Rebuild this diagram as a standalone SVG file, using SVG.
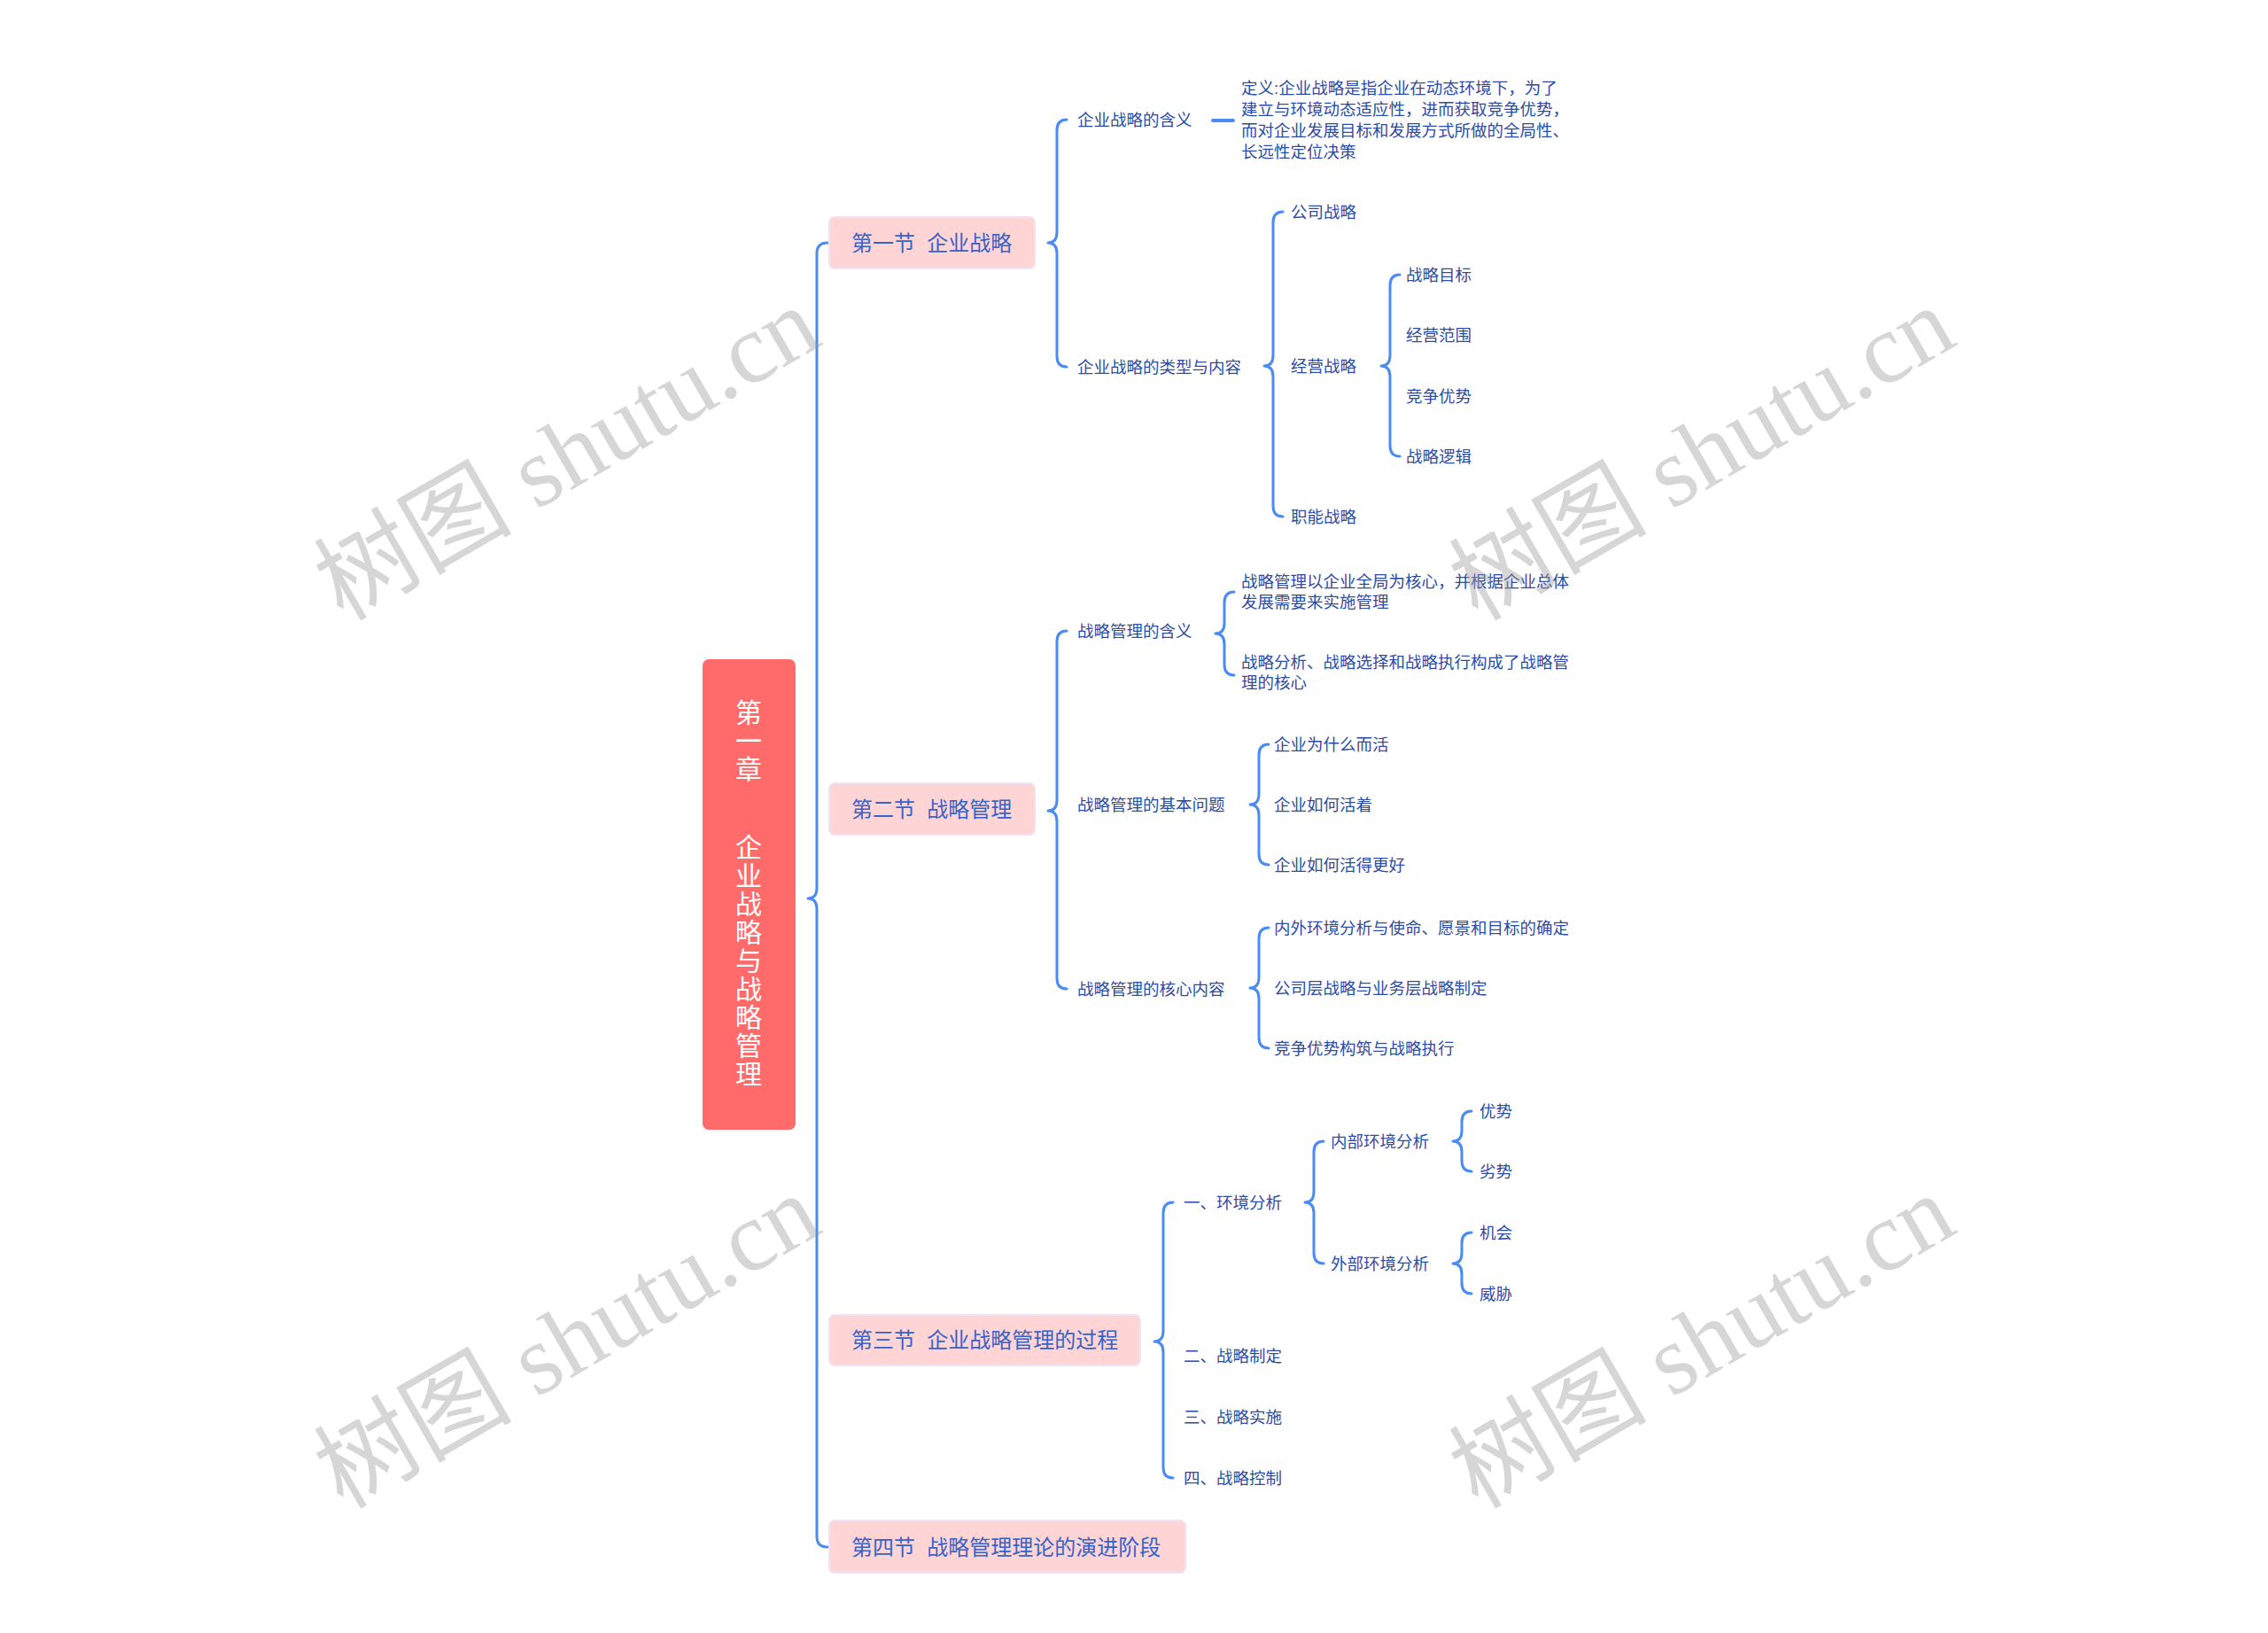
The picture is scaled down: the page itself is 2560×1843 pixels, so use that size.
<svg xmlns="http://www.w3.org/2000/svg" width="2560" height="1843" viewBox="0 0 2560 1843">
<style>
text{font-family:'Liberation Sans','Noto Sans CJK SC',sans-serif;dominant-baseline:central}
.root{fill:#FF6B6B}
.roott{fill:#ffffff;font-size:30px;text-anchor:middle}
.sec{fill:#FFD4D4;stroke:#F0E2F2;stroke-width:2}
.sect{fill:#3563C9;font-size:24px;white-space:pre}
.sub{fill:#2D4CA6;font-size:18.5px}
.con{fill:none;stroke:#4A8CF2;stroke-width:3;stroke-linecap:round;stroke-linejoin:round}
.wm{font-family:'Liberation Serif','Noto Sans CJK SC',serif;font-size:112px;fill:#999999;fill-opacity:0.4;text-anchor:middle}
</style>
<rect width="2560" height="1843" fill="#ffffff"/>
<g id="connectors">
<path class="con" d="M934,274 Q922,274 922,286 L922,1002 Q922,1014 912,1014 Q922,1014 922,1026 L922,1734 Q922,1746 934,1746"/>
<path class="con" d="M1204,135 Q1193,135 1193,147 L1193,262 Q1193,274 1183,274 Q1193,274 1193,286 L1193,402 Q1193,414 1204,414"/>
<path class="con" d="M1369,136 L1392,136" style="stroke-width:4"/>
<path class="con" d="M1448,239 Q1437,239 1437,251 L1437,401 Q1437,413 1427,413 Q1437,413 1437,425 L1437,571 Q1437,583 1448,583"/>
<path class="con" d="M1580,310 Q1569,310 1569,322 L1569,401 Q1569,413 1559,413 Q1569,413 1569,425 L1569,503 Q1569,515 1580,515"/>
<path class="con" d="M1204,712 Q1193,712 1193,724 L1193,903 Q1193,915 1183,915 Q1193,915 1193,927 L1193,1104 Q1193,1116 1204,1116"/>
<path class="con" d="M1393,668 Q1382,668 1382,680 L1382,703 Q1382,715 1372,715 Q1382,715 1382,727 L1382,750 Q1382,762 1393,762"/>
<path class="con" d="M1432,840 Q1421,840 1421,852 L1421,896 Q1421,908 1411,908 Q1421,908 1421,920 L1421,964 Q1421,976 1432,976"/>
<path class="con" d="M1432,1047 Q1421,1047 1421,1059 L1421,1103 Q1421,1115 1411,1115 Q1421,1115 1421,1127 L1421,1171 Q1421,1183 1432,1183"/>
<path class="con" d="M1324,1357 Q1313,1357 1313,1369 L1313,1502 Q1313,1514 1303,1514 Q1313,1514 1313,1526 L1313,1656 Q1313,1668 1324,1668"/>
<path class="con" d="M1494,1288 Q1483,1288 1483,1300 L1483,1345 Q1483,1357 1473,1357 Q1483,1357 1483,1369 L1483,1414 Q1483,1426 1494,1426"/>
<path class="con" d="M1661,1254 Q1650,1254 1650,1266 L1650,1276 Q1650,1288 1640,1288 Q1650,1288 1650,1300 L1650,1310 Q1650,1322 1661,1322"/>
<path class="con" d="M1661,1391 Q1650,1391 1650,1403 L1650,1414 Q1650,1426 1640,1426 Q1650,1426 1650,1438 L1650,1448 Q1650,1460 1661,1460"/>
</g>
<g id="root">
<rect class="root" x="793" y="744" width="105" height="531" rx="7"/>
<text class="roott"><tspan x="845" y="804">第</tspan><tspan x="845" y="836">一</tspan><tspan x="845" y="868">章</tspan><tspan x="845" y="956">企</tspan><tspan x="845" y="988">业</tspan><tspan x="845" y="1020">战</tspan><tspan x="845" y="1052">略</tspan><tspan x="845" y="1084">与</tspan><tspan x="845" y="1116">战</tspan><tspan x="845" y="1148">略</tspan><tspan x="845" y="1180">管</tspan><tspan x="845" y="1212">理</tspan></text>
</g>
<g id="s1"><rect class="sec" x="936" y="245" width="232" height="58" rx="6"/><text class="sect" x="961" y="274" xml:space="preserve">第一节  企业战略</text></g>
<g id="s2"><rect class="sec" x="936" y="884" width="232" height="58" rx="6"/><text class="sect" x="961" y="913" xml:space="preserve">第二节  战略管理</text></g>
<g id="s3"><rect class="sec" x="936" y="1484" width="351" height="57" rx="6"/><text class="sect" x="961" y="1512" xml:space="preserve">第三节  企业战略管理的过程</text></g>
<g id="s4"><rect class="sec" x="936" y="1716" width="402" height="59" rx="6"/><text class="sect" x="961" y="1746" xml:space="preserve">第四节  战略管理理论的演进阶段</text></g>
<g id="n-hanyi"><text class="sub" x="1216" y="135">企业战略的含义</text></g>
<g id="n-def"><text class="sub"><tspan x="1401" y="99">定义:企业战略是指企业在动态环境下，为了</tspan><tspan x="1401" y="123">建立与环境动态适应性，进而获取竞争优势，</tspan><tspan x="1401" y="147">而对企业发展目标和发展方式所做的全局性、</tspan><tspan x="1401" y="171">长远性定位决策</tspan></text></g>
<g id="n-types"><text class="sub" x="1216" y="414">企业战略的类型与内容</text></g>
<g id="n-gongsi"><text class="sub" x="1457" y="239">公司战略</text></g>
<g id="n-jingying"><text class="sub" x="1457" y="413">经营战略</text></g>
<g id="n-zhineng"><text class="sub" x="1457" y="583">职能战略</text></g>
<g id="n-mubiao"><text class="sub" x="1587" y="310">战略目标</text></g>
<g id="n-fanwei"><text class="sub" x="1587" y="378">经营范围</text></g>
<g id="n-youshi1"><text class="sub" x="1587" y="447">竞争优势</text></g>
<g id="n-luoji"><text class="sub" x="1587" y="515">战略逻辑</text></g>
<g id="n-glhanyi"><text class="sub" x="1216" y="712">战略管理的含义</text></g>
<g id="n-gl1"><text class="sub"><tspan x="1401" y="656">战略管理以企业全局为核心，并根据企业总体</tspan><tspan x="1401" y="679">发展需要来实施管理</tspan></text></g>
<g id="n-gl2"><text class="sub"><tspan x="1401" y="747">战略分析、战略选择和战略执行构成了战略管</tspan><tspan x="1401" y="770">理的核心</tspan></text></g>
<g id="n-jiben"><text class="sub" x="1216" y="908">战略管理的基本问题</text></g>
<g id="n-q1"><text class="sub" x="1438" y="840">企业为什么而活</text></g>
<g id="n-q2"><text class="sub" x="1438" y="908">企业如何活着</text></g>
<g id="n-q3"><text class="sub" x="1438" y="976">企业如何活得更好</text></g>
<g id="n-hexin"><text class="sub" x="1216" y="1116">战略管理的核心内容</text></g>
<g id="n-c1"><text class="sub" x="1438" y="1047">内外环境分析与使命、愿景和目标的确定</text></g>
<g id="n-c2"><text class="sub" x="1438" y="1115">公司层战略与业务层战略制定</text></g>
<g id="n-c3"><text class="sub" x="1438" y="1183">竞争优势构筑与战略执行</text></g>
<g id="n-p1"><text class="sub" x="1336" y="1357">一、环境分析</text></g>
<g id="n-p2"><text class="sub" x="1336" y="1530">二、战略制定</text></g>
<g id="n-p3"><text class="sub" x="1336" y="1599">三、战略实施</text></g>
<g id="n-p4"><text class="sub" x="1336" y="1668">四、战略控制</text></g>
<g id="n-nei"><text class="sub" x="1502" y="1288">内部环境分析</text></g>
<g id="n-wai"><text class="sub" x="1502" y="1426">外部环境分析</text></g>
<g id="n-ys"><text class="sub" x="1670" y="1254">优势</text></g>
<g id="n-ls"><text class="sub" x="1670" y="1322">劣势</text></g>
<g id="n-jh"><text class="sub" x="1670" y="1391">机会</text></g>
<g id="n-wx"><text class="sub" x="1670" y="1460">威胁</text></g>
<g id="watermarks">
<text class="wm" x="640" y="512" transform="rotate(-30 640 512)">树图 shutu.cn</text>
<text class="wm" x="1921" y="512" transform="rotate(-30 1921 512)">树图 shutu.cn</text>
<text class="wm" x="640" y="1514" transform="rotate(-30 640 1514)">树图 shutu.cn</text>
<text class="wm" x="1921" y="1514" transform="rotate(-30 1921 1514)">树图 shutu.cn</text>
</g>
</svg>
